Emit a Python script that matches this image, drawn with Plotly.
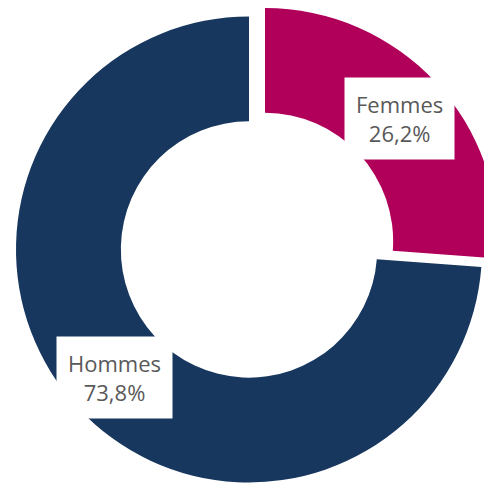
import math
import plotly.graph_objects as go

labels = ["Femmes", "Hommes"]
values = [26.2, 73.8]
colors = ["#B0005A", "#17375E"]
exploded = [True, False]

W, H = 492, 489
# page body has an 8px margin, so figure coords = screen coords - 8
CX, CY, R = 241, 241.5, 233     # pie centre / radius in figure px
HOLE = 0.55
PULL_DX, PULL_DY = 16, 8.5      # explode offset of the pulled slice (px, right / up)
LABEL_R = 0.79

total = sum(values)
fracs = [v / total for v in values]
mids = []
acc = 0.0
for f in fracs:
    mids.append((acc + f / 2) * 2 * math.pi)
    acc += f

fig = go.Figure()
annotations = []
for i, lab in enumerate(labels):
    cx = CX + (PULL_DX if exploded[i] else 0)
    cy = CY - (PULL_DY if exploded[i] else 0)
    cols = [c if j == i else "rgba(0,0,0,0)" for j, c in enumerate(colors)]
    fig.add_trace(go.Pie(
        labels=labels, values=values, sort=False, direction="clockwise", rotation=0,
        hole=HOLE, marker=dict(colors=cols, line=dict(width=0)),
        textinfo="none", hoverinfo="label+percent", showlegend=False,
        domain=dict(x=[max(0, (cx - R) / W), min(1, (cx + R) / W)],
                    y=[max(0, 1 - (cy + R) / H), min(1, 1 - (cy - R) / H)]),
    ))
    lx = cx + R * LABEL_R * math.sin(mids[i])
    ly = cy - R * LABEL_R * math.cos(mids[i]) + 3
    txt = f"{lab}<br>{fracs[i]*100:.1f}%".replace(".", ",")
    annotations.append(dict(
        x=lx / W, y=1 - ly / H, xref="paper", yref="paper", text=txt,
        xanchor="center", yanchor="middle",
        showarrow=False, bgcolor="white", borderpad=11,
        font=dict(family="Open Sans", size=22, color="#595959"), align="center",
    ))

fig.update_layout(
    width=W, height=H, margin=dict(l=0, r=0, t=0, b=0),
    paper_bgcolor="white", plot_bgcolor="white", annotations=annotations,
)
fig.write_html("out.html")
